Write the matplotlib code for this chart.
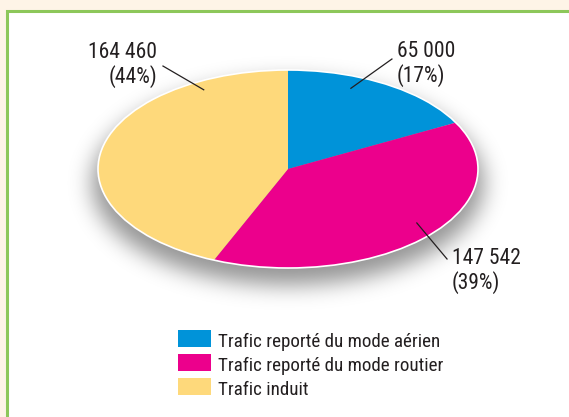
import numpy as np
import matplotlib
matplotlib.use('Agg')
from matplotlib import pyplot as plt
from matplotlib.patches import Rectangle, Ellipse

plt.rcParams['font.family'] = ['Roboto Condensed', 'Archivo Narrow', 'DejaVu Sans']

labels = ['Trafic reporté du mode aérien', 'Trafic reporté du mode routier', 'Trafic induit']
values = [65000, 147542, 164460]
value_text = ['65 000', '147 542', '164 460']
colors = ['#0093d9', '#ec008c', '#fed97b']

# leader lines: start (angle deg, radius) inside slice, end in pie units
lead_start = [(67.9, 0.88), (-38.8, 0.87), (119.0, 0.915)]
lead_end = [(0.547, 1.111), (0.837, -0.909), (-0.658, 1.040)]
# pixel offset of the last text line's baseline from the line end
text_off = [(5, -23, 'left'), (5, -30, 'left'), (-6, -17, 'right')]

ink = '#231f20'
W, H = 569, 417
fig = plt.figure(figsize=(W / 100, H / 100), dpi=100, facecolor='#fef4e7')
bg = fig.add_axes([0, 0, 1, 1])
bg.set_xlim(0, W)
bg.set_ylim(H, 0)
bg.axis('off')
bg.add_patch(Rectangle((7.5, 10.5), W, H, facecolor='white', edgecolor='#8dc75a', lw=2.2))

# pie ellipse box in pixels
px0, px1, py0, py1 = 98, 478, 70, 268
cx, cy = (px0 + px1) / 2, (py0 + py1) / 2
a, b = (px1 - px0) / 2, (py1 - py0) / 2

# soft drop shadow under the pie
yy, xx = np.mgrid[0:H, 0:W] + 0.5
mask = (((xx - cx) / (a + 6)) ** 2 + ((yy - cy - 14) / (b + 3)) ** 2 <= 1).astype(float)
sig = 11
k = np.exp(-0.5 * (np.arange(-3 * sig, 3 * sig + 1) / sig) ** 2)
k /= k.sum()
blur = np.apply_along_axis(lambda r: np.convolve(r, k, mode='same'), 1, mask)
blur = np.apply_along_axis(lambda c: np.convolve(c, k, mode='same'), 0, blur)
rgba = np.zeros((H, W, 4))
rgba[..., 3] = blur * 0.42
bg.imshow(rgba, extent=(0, W, H, 0), interpolation='bilinear', zorder=2)

# pie, squashed into an ellipse
ax = fig.add_axes([px0 / W, 1 - py1 / H, (px1 - px0) / W, (py1 - py0) / H])
ax.patch.set_visible(False)
wedges, _ = ax.pie(values, colors=colors, startangle=90, counterclock=False,
                   wedgeprops=dict(linewidth=0))
ax.set_aspect('auto')
ax.set_xlim(-1, 1)
ax.set_ylim(-1, 1)
ax.axis('off')
for w in wedges:
    w.set_clip_on(False)
ax.add_patch(Ellipse((0, 0), 2, 2, fill=False, edgecolor='white', lw=1.2, clip_on=False))

total = sum(values)
for v, txt, (ang, r), end, (dx, dy, ha) in zip(values, value_text, lead_start, lead_end, text_off):
    sx, sy = r * np.cos(np.radians(ang)), r * np.sin(np.radians(ang))
    ax.plot([sx, end[0]], [sy, end[1]], color=ink, lw=0.9, clip_on=False)
    ax.annotate(f'{txt}\n({round(100 * v / total)}%)', xy=end, xytext=(dx, dy),
                textcoords='offset pixels', ha=ha, va='baseline', multialignment=ha,
                fontsize=15.5, linespacing=1.1, color=ink, annotation_clip=False)

# legend
for i, (w, lab) in enumerate(zip(wedges, labels)):
    top = 330 + 24 * i
    bg.add_patch(Rectangle((178, top), 33, 17, facecolor=w.get_facecolor(), lw=0, zorder=3))
    bg.text(218, top + 17, lab, fontsize=13.7, color=ink, va='baseline', ha='left', zorder=3)

fig.savefig('out.png', dpi=100, facecolor=fig.get_facecolor())
